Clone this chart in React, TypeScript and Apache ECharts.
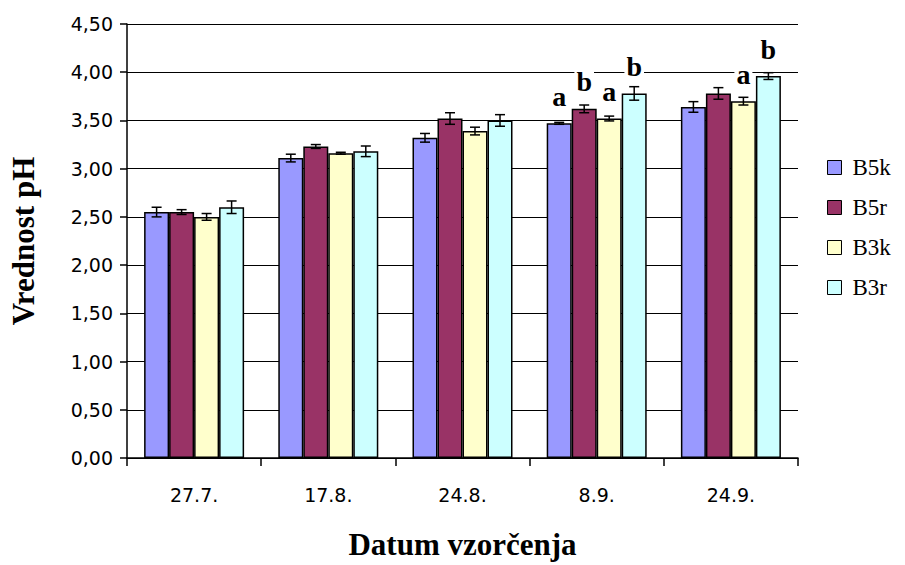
import React, { useEffect, useRef } from "react";
import * as echarts from "echarts";

const categories = ["27.7.", "17.8.", "24.8.", "8.9.", "24.9."];
const seriesNames = ["B5k", "B5r", "B3k", "B3r"];
const colors = ["#9999FF", "#993366", "#FFFFCC", "#CCFFFF"];

const b5k = [2.55, 3.11, 3.32, 3.47, 3.64];
const b5r = [2.55, 3.23, 3.52, 3.62, 3.78];
const b3k = [2.5, 3.16, 3.39, 3.52, 3.7];
const b3r = [2.6, 3.18, 3.5, 3.78, 3.96];

const b5kErr = [0.05, 0.04, 0.045, 0.01, 0.055];
const b5rErr = [0.025, 0.02, 0.06, 0.04, 0.06];
const b3kErr = [0.035, 0.01, 0.04, 0.025, 0.04];
const b3rErr = [0.065, 0.055, 0.06, 0.07, 0.035];

const b5kLetters = ["", "", "", "a", ""];
const b5rLetters = ["", "", "", "b", ""];
const b3kLetters = ["", "", "", "a", "a"];
const b3rLetters = ["", "", "", "b", "b"];

const yMin = 0;
const yMax = 4.5;
const yInterval = 0.5;

const xTitle = "Datum vzorčenja";
const yTitle = "Vrednost pH";

const BAR_W = 25;

export default function App() {
  const ref = useRef<HTMLDivElement>(null);
  useEffect(() => {
    if (!ref.current) return;
    const chart = echarts.init(ref.current, null, { renderer: "svg" });
    const values = [b5k, b5r, b3k, b3r];
    const errs = [b5kErr, b5rErr, b3kErr, b3rErr];
    const letters = [b5kLetters, b5rLetters, b3kLetters, b3rLetters];

    const barSeries = seriesNames.map((name, s) => ({
      name,
      type: "bar",
      barWidth: BAR_W,
      barGap: "0%",
      itemStyle: { color: colors[s], borderColor: "#000", borderWidth: 1.5 },
      data: values[s].map((v, i) => ({
        value: v,
        label: letters[s][i]
          ? {
              show: true,
              position: "top",
              distance: 13,
              formatter: letters[s][i],
              fontFamily: "Liberation Serif",
              fontWeight: "bold",
              fontSize: 28,
              color: "#000",
              backgroundColor: "#fff",
              padding: [0, 2, 0, 2],
            }
          : { show: false },
      })),
      z: 2,
    }));

    const errData: number[][] = [];
    seriesNames.forEach((_, s) => {
      values[s].forEach((v, i) => errData.push([i, v, errs[s][i], s]));
    });

    const errSeries = {
      type: "custom",
      name: "err",
      z: 5,
      silent: true,
      renderItem: (params: any, api: any) => {
        const i = api.value(0);
        const v = api.value(1);
        const e = api.value(2);
        const s = api.value(3);
        const hi = api.coord([i, v + e]);
        const lo = api.coord([i, v - e]);
        const x = hi[0] + (s - 1.5) * BAR_W;
        const cap = 5;
        const style = { stroke: "#000", lineWidth: 1.5 };
        return {
          type: "group",
          children: [
            { type: "line", shape: { x1: x, y1: hi[1], x2: x, y2: lo[1] }, style },
            { type: "line", shape: { x1: x - cap, y1: hi[1], x2: x + cap, y2: hi[1] }, style },
            { type: "line", shape: { x1: x - cap, y1: lo[1], x2: x + cap, y2: lo[1] }, style },
          ],
        };
      },
      data: errData,
    };

    chart.setOption({
      animation: false,
      backgroundColor: "#fff",
      grid: { left: 123, right: 107, top: 24, bottom: 99, containLabel: false },
      legend: {
        orient: "vertical",
        left: 822,
        top: 151,
        itemWidth: 14,
        itemHeight: 14,
        itemGap: 17,
        icon: "rect",
        data: seriesNames.map((n) => ({ name: n })),
        itemStyle: { borderColor: "#000", borderWidth: 1 },
        textStyle: { fontFamily: "Liberation Serif", fontSize: 23, color: "#000", padding: [0, 0, 0, 6] },
      },
      xAxis: {
        type: "category",
        data: categories,
        name: xTitle,
        nameLocation: "middle",
        nameGap: 71,
        nameTextStyle: {
          fontFamily: "Liberation Serif",
          fontWeight: "bold",
          fontSize: 31,
          color: "#000",
          verticalAlign: "top",
        },
        axisLine: { lineStyle: { color: "#000", width: 1.5 } },
        axisTick: { show: true, length: 8, lineStyle: { color: "#000", width: 1.5 } },
        axisLabel: { fontFamily: "DejaVu Sans", fontSize: 19, color: "#000", margin: 27 },
      },
      yAxis: {
        type: "value",
        min: yMin,
        max: yMax,
        interval: yInterval,
        name: yTitle,
        nameLocation: "middle",
        nameGap: 88,
        nameRotate: 90,
        nameTextStyle: {
          fontFamily: "Liberation Serif",
          fontWeight: "bold",
          fontSize: 31,
          color: "#000",
        },
        axisLine: { show: true, lineStyle: { color: "#000", width: 1.5 } },
        axisTick: { show: true, length: 7, lineStyle: { color: "#000", width: 1.5 } },
        axisLabel: {
          fontFamily: "DejaVu Sans",
          fontSize: 19,
          color: "#000",
          margin: 14,
          formatter: (v: number) => v.toFixed(2).replace(".", ","),
        },
        splitLine: { show: true, lineStyle: { color: "#000", width: 1.2 } },
      },
      series: [...barSeries, errSeries],
    });
    return () => chart.dispose();
  }, []);
  return <div ref={ref} style={{ width: 905, height: 565, position: "absolute", left: 0, top: 0 }} />;
}
